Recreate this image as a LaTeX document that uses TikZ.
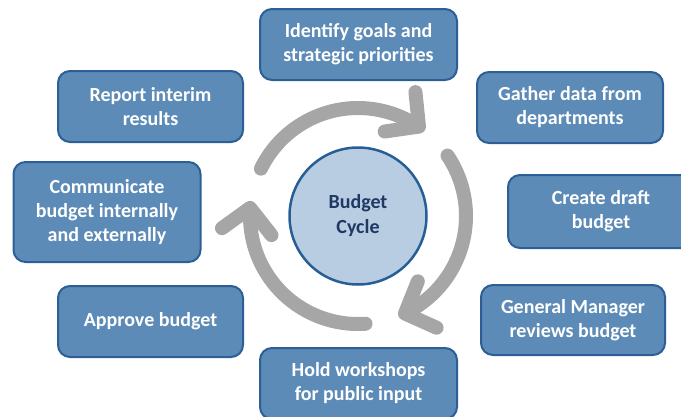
\documentclass[tikz,border=0pt]{standalone}
\usepackage{fontspec}
\setmainfont{Carlito}
\usetikzlibrary{arrows.meta,bending}

\definecolor{boxfill}{RGB}{93,139,183}
\definecolor{boxline}{RGB}{44,95,150}
\definecolor{hubfill}{RGB}{184,205,226}
\definecolor{hubline}{RGB}{40,94,150}
\definecolor{hubtext}{RGB}{31,56,100}
\definecolor{ringgray}{RGB}{166,166,166}

\tikzset{
  stepbox/.style 2 args={draw=boxline, fill=boxfill, line width=2pt,
    rounded corners=12pt, text=white, align=center, inner sep=0pt,
    font=\fontsize{20}{24}\selectfont\bfseries,
    minimum width=#1, minimum height=#2},
  hub/.style={circle, draw=hubline, fill=hubfill, line width=2.5pt,
    minimum size=137pt, inner sep=0pt, align=center, text=hubtext,
    font=\fontsize{20}{25}\selectfont\bfseries},
  cyclearrow/.style={draw=ringgray, line width=14pt, line cap=round,
    -{Straight Barb[length=24pt,width=50pt,line cap=round,line join=round]}}
}

\begin{document}
\begin{tikzpicture}[x=1pt,y=1pt]
  \clip (0,-416) rectangle (681,0);

  % central hub
  \node[hub] (hub) at (358,-216) {Budget\\Cycle};

  % steps of the cycle
  \node[stepbox={197pt}{71pt}] (goals)    at (358.5,-44.5) {Identify goals and\\strategic priorities};
  \node[stepbox={186pt}{71pt}] (data)     at (570,-107.5)  {Gather data from\\departments};
  \node[stepbox={186pt}{73pt}] (draft)    at (601,-211.5)  {Create draft\\budget};
  \node[stepbox={184pt}{70pt}] (review)   at (573,-320)    {General Manager\\reviews budget};
  \node[stepbox={197pt}{71pt}] (workshop) at (358.5,-383.5) {Hold workshops\\for public input};
  \node[stepbox={185pt}{71pt}] (approve)  at (150.5,-321.5) {Approve budget};
  \node[stepbox={187pt}{100pt}] (comm)    at (107,-212)    {Communicate\\budget internally\\and externally};
  \node[stepbox={185pt}{71pt}] (report)   at (150.5,-106.5) {Report interim\\results};

  % circular arrows around the hub
  \draw[cyclearrow] ([shift={(154:108)}]hub.center) arc[start angle=154, end angle=52, radius=108];
  \draw[cyclearrow] ([shift={(34:108)}]hub.center) arc[start angle=34, end angle=-68, radius=108];
  \draw[cyclearrow] ([shift={(-86:108)}]hub.center) arc[start angle=-86, end angle=-188, radius=108];
\end{tikzpicture}
\end{document}
